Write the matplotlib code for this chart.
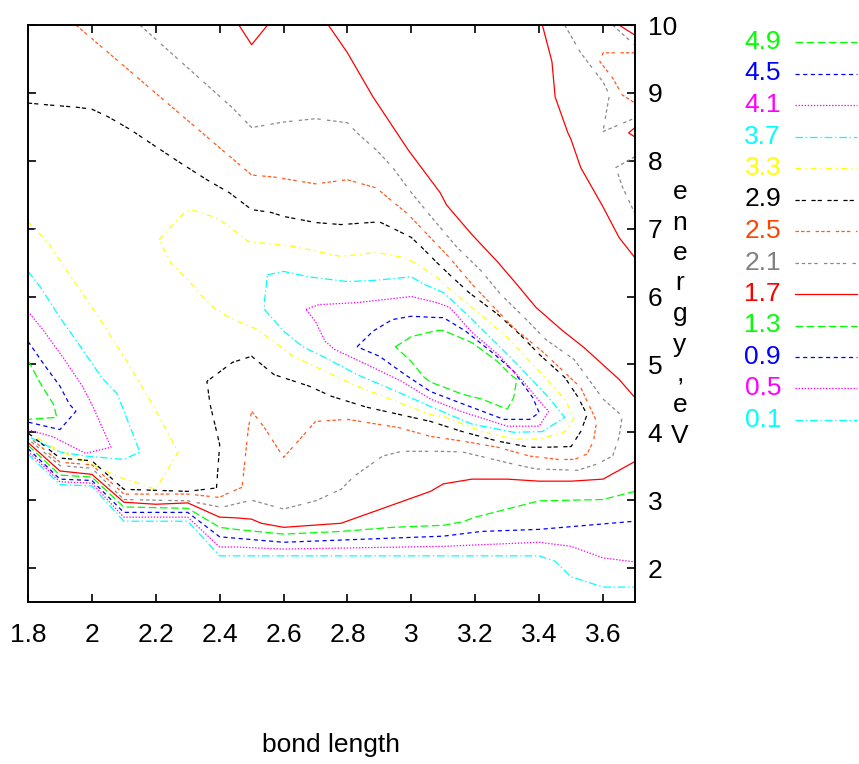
import matplotlib
matplotlib.use('Agg')
import matplotlib.pyplot as plt
from matplotlib.lines import Line2D

plt.rcParams['font.family'] = ['Liberation Sans Narrow', 'Liberation Sans', 'DejaVu Sans']
plt.rcParams['lines.scale_dashes'] = False

# contour levels as in the key (top to bottom)
levels = ['4.9', '4.5', '4.1', '3.7', '3.3', '2.9', '2.5', '2.1', '1.7', '1.3', '0.9', '0.5', '0.1']

# contour pieces: (bond length, energy eV)
c49 = [
    [(1.80, 5.06), (1.84, 4.71), (1.88, 4.41), (1.89, 4.22), (1.80, 4.19)],
    [(2.95, 5.26), (3.00, 5.41), (3.08, 5.50), (3.10, 5.50), (3.19, 5.32), (3.27, 5.04), (3.31, 4.85),
     (3.33, 4.78), (3.32, 4.51), (3.30, 4.34), (3.22, 4.49), (3.16, 4.56), (3.06, 4.74), (3.04, 4.81),
     (3.00, 5.04), (2.95, 5.26)],
]
c45 = [
    [(1.80, 5.34), (1.85, 5.00), (1.90, 4.68), (1.93, 4.41), (1.95, 4.31), (1.90, 4.04), (1.80, 4.15)],
    [(2.83, 5.26), (2.88, 5.49), (2.94, 5.66), (3.00, 5.71), (3.08, 5.69), (3.10, 5.69), (3.17, 5.49),
     (3.26, 5.15), (3.32, 4.90), (3.38, 4.51), (3.40, 4.29), (3.37, 4.19), (3.29, 4.19), (3.16, 4.42),
     (3.06, 4.60), (2.98, 4.85), (2.90, 5.12), (2.83, 5.26)],
]
c41 = [
    [(1.80, 5.78), (1.85, 5.49), (1.91, 5.10), (1.97, 4.68), (2.00, 4.41), (2.06, 3.78), (1.98, 3.69),
     (1.88, 3.93), (1.80, 4.04)],
    [(2.67, 5.81), (2.71, 5.88), (2.83, 5.91), (3.00, 6.00), (3.08, 5.91), (3.12, 5.84), (3.19, 5.47),
     (3.27, 5.15), (3.35, 4.75), (3.41, 4.41), (3.43, 4.31), (3.40, 4.09), (3.30, 4.09), (3.16, 4.30),
     (3.06, 4.49), (2.97, 4.75), (2.86, 5.00), (2.76, 5.22), (2.73, 5.34), (2.70, 5.63), (2.67, 5.81)],
]
c37 = [
    [(1.80, 6.37), (1.84, 6.13), (1.90, 5.69), (1.96, 5.29), (2.03, 4.81), (2.08, 4.56), (2.15, 3.71),
     (2.10, 3.60), (1.98, 3.65), (1.90, 3.71), (1.80, 3.94)],
    [(2.55, 6.32), (2.60, 6.37), (2.68, 6.29), (2.80, 6.22), (2.89, 6.24), (3.00, 6.29), (3.04, 6.18),
     (3.08, 6.10), (3.10, 6.06), (3.18, 5.71), (3.27, 5.29), (3.34, 4.96), (3.43, 4.51), (3.48, 4.22),
     (3.41, 4.01), (3.32, 4.00), (3.19, 4.12), (3.06, 4.38), (2.94, 4.63), (2.83, 4.85), (2.73, 5.10),
     (2.66, 5.26), (2.60, 5.49), (2.54, 5.81), (2.54, 5.93), (2.55, 6.32)],
]
c33 = [
    [(1.80, 7.10), (1.86, 6.81), (1.93, 6.32), (2.03, 5.63), (2.11, 5.04), (2.19, 4.41), (2.27, 3.71),
     (2.20, 3.16), (2.08, 3.35), (1.98, 3.57), (1.90, 3.72), (1.80, 4.00)],
    [(2.21, 6.84), (2.29, 7.24), (2.31, 7.28), (2.39, 7.16), (2.43, 7.03), (2.49, 6.81), (2.63, 6.74),
     (2.78, 6.59), (2.89, 6.65), (2.98, 6.57), (3.02, 6.47), (3.08, 6.28), (3.11, 6.15), (3.21, 5.76),
     (3.30, 5.40), (3.38, 5.00), (3.48, 4.49), (3.51, 4.22), (3.48, 4.01), (3.40, 3.90), (3.32, 3.90),
     (3.22, 4.01), (3.11, 4.22), (3.06, 4.26), (2.96, 4.44), (2.83, 4.68), (2.73, 4.90), (2.63, 5.12),
     (2.52, 5.51), (2.43, 5.69), (2.38, 5.84), (2.34, 6.03), (2.30, 6.25), (2.25, 6.47), (2.21, 6.84)],
]
c29 = [
    [(1.80, 8.85), (1.87, 8.82), (1.95, 8.79), (2.00, 8.76), (2.05, 8.65), (2.12, 8.46), (2.19, 8.24),
     (2.27, 7.99), (2.36, 7.72), (2.43, 7.53), (2.50, 7.28), (2.56, 7.24), (2.60, 7.18), (2.70, 7.09),
     (2.78, 7.06), (2.90, 7.10), (2.94, 7.01), (3.00, 6.87), (3.04, 6.69), (3.08, 6.50), (3.12, 6.32),
     (3.18, 6.06), (3.27, 5.74), (3.34, 5.44), (3.40, 5.15), (3.48, 4.81), (3.52, 4.53), (3.55, 4.26),
     (3.53, 4.01), (3.50, 3.79), (3.42, 3.78), (3.37, 3.78), (3.27, 3.87), (3.16, 4.01), (3.06, 4.16),
     (2.86, 4.37), (2.75, 4.53), (2.68, 4.68), (2.57, 4.85), (2.50, 5.12), (2.44, 5.03), (2.36, 4.75),
     (2.37, 4.41), (2.40, 3.82), (2.39, 3.18), (2.30, 3.13), (2.10, 3.16), (2.00, 3.58), (1.90, 3.62),
     (1.80, 3.99)],
]
c25 = [
    [(1.95, 10.0), (2.45, 7.99), (2.50, 7.79), (2.57, 7.76), (2.70, 7.66), (2.80, 7.72), (2.89, 7.60),
     (2.99, 7.21), (3.12, 6.57), (3.19, 6.18), (3.32, 5.54), (3.41, 5.19), (3.53, 4.66), (3.58, 4.16),
     (3.57, 3.87), (3.55, 3.68), (3.51, 3.60), (3.46, 3.60), (3.37, 3.65), (3.27, 3.78), (3.16, 3.87),
     (3.06, 3.94), (2.96, 4.07), (2.80, 4.19), (2.70, 4.16), (2.67, 4.00), (2.60, 3.63), (2.54, 4.07),
     (2.50, 4.31), (2.49, 4.07), (2.47, 3.19), (2.42, 3.09), (2.40, 3.04), (2.30, 3.09), (2.10, 3.09),
     (2.00, 3.52), (1.90, 3.56), (1.80, 3.94)],
    [(3.70, 9.59), (3.60, 9.59), (3.59, 9.46), (3.63, 9.22), (3.66, 8.97), (3.70, 8.85)],
]
c21 = [
    [(2.15, 10.0), (2.44, 8.78), (2.50, 8.49), (2.60, 8.57), (2.70, 8.62), (2.80, 8.56), (2.83, 8.41),
     (2.89, 8.16), (2.94, 7.91), (3.00, 7.53), (3.07, 7.13), (3.14, 6.74), (3.22, 6.37), (3.28, 6.03),
     (3.36, 5.66), (3.42, 5.37), (3.51, 5.07), (3.60, 4.49), (3.66, 4.24), (3.65, 3.93), (3.63, 3.65),
     (3.58, 3.53), (3.52, 3.44), (3.39, 3.46), (3.32, 3.53), (3.16, 3.71), (3.09, 3.72), (2.97, 3.72),
     (2.91, 3.65), (2.82, 3.35), (2.78, 3.16), (2.70, 2.99), (2.60, 2.87), (2.50, 3.00), (2.42, 2.91),
     (2.40, 2.90), (2.30, 2.99), (2.10, 3.01), (2.00, 3.47), (1.90, 3.51), (1.80, 3.90)],
    [(3.48, 10.0), (3.53, 9.59), (3.60, 9.16), (3.62, 8.97), (3.61, 8.71), (3.60, 8.43), (3.70, 8.63)],
    [(3.70, 8.06), (3.64, 7.90), (3.66, 7.62), (3.70, 7.22)],
    [(3.63, 10.0), (3.70, 9.70)],
]
c17 = [
    [(1.80, 3.85), (1.90, 3.43), (2.00, 3.38), (2.10, 2.97), (2.20, 2.94), (2.30, 2.96), (2.40, 2.75),
     (2.45, 2.74), (2.50, 2.72), (2.53, 2.66), (2.60, 2.60), (2.78, 2.66), (3.06, 3.13), (3.10, 3.24),
     (3.19, 3.31), (3.30, 3.31), (3.40, 3.28), (3.50, 3.28), (3.60, 3.31), (3.70, 3.57)],
    [(2.74, 10.0), (2.80, 9.59), (2.88, 8.94), (2.99, 8.16), (3.09, 7.53), (3.11, 7.35), (3.19, 6.91),
     (3.27, 6.51), (3.33, 6.18), (3.39, 5.84), (3.47, 5.51), (3.54, 5.25), (3.65, 4.78), (3.70, 4.51)],
    [(3.41, 10.0), (3.44, 9.46), (3.45, 8.94), (3.49, 8.41), (3.50, 8.31), (3.53, 7.90), (3.60, 7.32),
     (3.65, 6.87), (3.70, 6.57)],
    [(2.46, 10.0), (2.50, 9.71), (2.55, 10.0)],
    [(3.70, 8.49), (3.68, 8.41), (3.70, 8.35)],
    [(3.65, 10.0), (3.70, 9.85)],
]
c13 = [
    [(1.80, 3.81), (1.90, 3.37), (2.00, 3.34), (2.10, 2.90), (2.30, 2.88), (2.40, 2.60), (2.45, 2.57),
     (2.60, 2.50), (2.78, 2.54), (2.94, 2.60), (3.10, 2.63), (3.16, 2.68), (3.20, 2.75), (3.30, 2.87),
     (3.40, 2.99), (3.50, 3.00), (3.60, 3.01), (3.70, 3.13)],
]
c09 = [
    [(1.80, 3.76), (1.90, 3.31), (2.00, 3.29), (2.10, 2.82), (2.30, 2.82), (2.40, 2.46), (2.45, 2.44),
     (2.60, 2.38), (3.10, 2.47), (3.22, 2.54), (3.40, 2.57), (3.70, 2.69)],
]
c05 = [
    [(1.80, 3.72), (1.90, 3.27), (2.00, 3.25), (2.10, 2.75), (2.30, 2.75), (2.40, 2.31), (2.45, 2.31),
     (2.60, 2.28), (3.10, 2.32), (3.40, 2.38), (3.50, 2.32), (3.60, 2.15), (3.70, 2.09)],
]
c01 = [
    [(1.80, 3.68), (1.90, 3.23), (2.00, 3.21), (2.10, 2.69), (2.30, 2.69), (2.40, 2.18), (3.10, 2.18),
     (3.40, 2.18), (3.45, 2.10), (3.50, 1.87), (3.60, 1.72), (3.70, 1.72)],
]

contours = {'4.9': c49, '4.5': c45, '4.1': c41, '3.7': c37, '3.3': c33, '2.9': c29, '2.5': c25,
            '2.1': c21, '1.7': c17, '1.3': c13, '0.9': c09, '0.5': c05, '0.1': c01}

green = (0, (5.5, 2.5))
blue = (0, (3, 2.5))
dots = (0, (1, 1.2))
dashdot = (0, (5.5, 2, 1, 2))
style = {
    '4.9': ('#00ff00', '#00ff00', green),
    '4.5': ('#0000ff', '#0000ff', blue),
    '4.1': ('#ff00ff', '#ff00ff', dots),
    '3.7': ('#00ffff', '#00ffff', dashdot),
    '3.3': ('#ffff00', '#ffff00', (0, (4, 3, 1, 3))),
    '2.9': ('black', 'black', (0, (3, 1.5, 3, 4))),
    '2.5': ('#ff5a1f', '#ff4500', (0, (2.5, 1.5, 2.5, 1.5, 2.5, 4))),
    '2.1': ('#8a8a8a', '#808080', (0, (2.5, 2, 2.5, 2, 2.5, 2, 2.5, 4.5))),
    '1.7': ('#ff0000', '#ff0000', '-'),
    '1.3': ('#00ff00', '#00ff00', green),
    '0.9': ('#0000ff', '#0000ff', blue),
    '0.5': ('#ff00ff', '#ff00ff', dots),
    '0.1': ('#00ffff', '#00ffff', dashdot),
}

W, H = 859, 764
fig = plt.figure(figsize=(W / 100, H / 100), dpi=100)
ax = fig.add_axes([28 / W, 1 - 602 / H, (635 - 28) / W, (602 - 25) / H])

for lv in levels:
    col, tcol, ls = style[lv]
    for piece in contours[lv]:
        xs = [p[0] for p in piece]
        ys = [p[1] for p in piece]
        ax.plot(xs, ys, color=col, linestyle=ls, linewidth=0.9, clip_on=True)

ax.set_xlim(1.8, 3.7)
ax.set_ylim(1.5, 10)
xt = [1.8, 2.0, 2.2, 2.4, 2.6, 2.8, 3.0, 3.2, 3.4, 3.6]
ax.set_xticks(xt)
ax.set_xticklabels(['%g' % v for v in xt])
ax.set_yticks(range(2, 11))
ax.tick_params(axis='both', direction='in', length=6, width=1.2, top=True, bottom=True,
               left=True, right=True, labelleft=False, labelright=True, labelsize=19)
ax.tick_params(axis='x', pad=15)
ax.tick_params(axis='y', pad=9)
for s in ax.spines.values():
    s.set_linewidth(1.4)

# key on the right
for i, lv in enumerate(levels):
    col, tcol, ls = style[lv]
    yy = 1 - (42 + 31.5 * i) / H
    fig.text(781 / W, yy, lv, color=tcol, fontsize=19, ha='right', va='center')
    fig.add_artist(Line2D([795 / W, 857 / W], [yy, yy], color=col, linestyle=ls,
                          linewidth=0.9, transform=fig.transFigure))

# stacked y label
for i, ch in enumerate('energy,eV'):
    fig.text(680 / W, 1 - (192 + 30.5 * i) / H, ch, fontsize=19, ha='center', va='center')

fig.text(331 / W, 1 - 745 / H, 'bond length', fontsize=19, ha='center', va='center')

fig.savefig('out.png', dpi=100)
